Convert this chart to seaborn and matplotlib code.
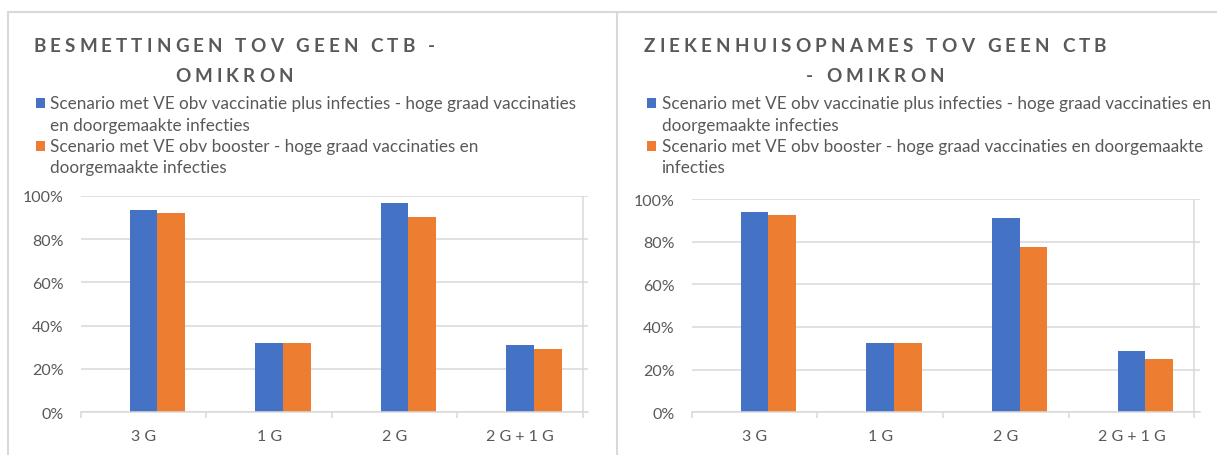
import matplotlib
matplotlib.use("Agg")
import matplotlib.pyplot as plt
import numpy as np
import pandas as pd
import seaborn as sns
from matplotlib.lines import Line2D
from matplotlib.patches import Rectangle
from matplotlib.ticker import PercentFormatter, FixedLocator

# ---------------- data ----------------
categories = ["3 G", "1 G", "2 G", "2 G + 1 G"]
series_names = [
    "Scenario met VE obv vaccinatie plus infecties - hoge graad vaccinaties en doorgemaakte infecties",
    "Scenario met VE obv booster - hoge graad vaccinaties en doorgemaakte infecties",
]
empty_series = "(lege reeks)"
titles = [
    ["BESMETTINGEN TOV GEEN CTB -", "OMIKRON"],
    ["ZIEKENHUISOPNAMES TOV GEEN CTB", "- OMIKRON"],
]
# legend text as wrapped in the reference
legend_lines = [
    [["Scenario met VE obv vaccinatie plus infecties - hoge graad vaccinaties", "en doorgemaakte infecties"],
     ["Scenario met VE obv booster - hoge graad vaccinaties en", "doorgemaakte infecties"]],
    [["Scenario met VE obv vaccinatie plus infecties - hoge graad vaccinaties en", "doorgemaakte infecties"],
     ["Scenario met VE obv booster - hoge graad vaccinaties en doorgemaakte", "infecties"]],
]
besmettingen_vacc_inf = [0.934, 0.318, 0.966, 0.309]
besmettingen_booster = [0.920, 0.318, 0.901, 0.291]
ziekenhuis_vacc_inf = [0.938, 0.323, 0.911, 0.289]
ziekenhuis_booster = [0.925, 0.323, 0.775, 0.248]
yticks = [0.0, 0.2, 0.4, 0.6, 0.8, 1.0]

bar_colors = ["#4472C4", "#ED7D31"]
text_color = "#595959"
grid_color = "#D9D9D9"

# ---------------- figure ----------------
sns.set_theme(style="white")
plt.rcParams["font.family"] = ["Lato", "DejaVu Sans"]

W, H = 1217, 456
fig = plt.figure(figsize=(W / 100, H / 100), dpi=100)
fig.patch.set_facecolor("white")


def fx(px):
    return px / W


def fy(py):
    return 1 - py / H


renderer = fig.canvas.get_renderer()


def text_width(s, **kw):
    t = fig.text(0, 0, s, **kw)
    w = t.get_window_extent(renderer).width
    t.remove()
    return w


def spaced_text(s, xc, y_base, spacing, **kw):
    widths = []
    for ch in s:
        if ch == " ":
            widths.append(text_width("H H", **kw) - text_width("HH", **kw))
        else:
            widths.append(text_width(ch, **kw))
    total = sum(widths) + spacing * (len(s) - 1)
    x = xc - total / 2
    for ch, w in zip(s, widths):
        if ch != " ":
            fig.text(fx(x), fy(y_base), ch, ha="left", va="baseline", **kw)
        x += w + spacing


panels = [
    dict(values=[besmettingen_vacc_inf, besmettingen_booster],
         ax_px=(80.8, 588.0, 196.7, 413.3), title_xc=234, legend_x=36, text_x=49.5),
    dict(values=[ziekenhuis_vacc_inf, ziekenhuis_booster],
         ax_px=(691.7, 1199.5, 200.0, 413.3), title_xc=875, legend_x=647, text_x=661.5),
]

for i, p in enumerate(panels):
    x0, x1, y0, y1 = p["ax_px"]
    ax = fig.add_axes([fx(x0), fy(y1), (x1 - x0) / W, (y1 - y0) / H])
    df = pd.DataFrame({
        "categorie": categories * 2,
        "scenario": [series_names[0]] * 4 + [series_names[1]] * 4,
        "waarde": list(p["values"][0]) + list(p["values"][1]),
    })
    palette = {empty_series: "white", series_names[0]: bar_colors[0], series_names[1]: bar_colors[1]}
    sns.barplot(data=df, x="categorie", y="waarde", hue="scenario",
                order=categories, hue_order=[empty_series] + series_names,
                palette=palette, width=0.66, dodge=True, saturation=1,
                linewidth=0, errorbar=None, legend=False, ax=ax)
    ax.set_xlim(-0.5, 3.54)
    ax.set_ylim(0, 1)
    ax.set_xlabel("")
    ax.set_ylabel("")
    ax.yaxis.set_major_locator(FixedLocator(yticks))
    ax.yaxis.set_major_formatter(PercentFormatter(1.0, decimals=0))
    ax.yaxis.grid(True, color=grid_color, lw=1.1)
    ax.set_axisbelow(True)
    for s in ["top", "left", "right"]:
        ax.spines[s].set_visible(False)
    ax.spines["bottom"].set_color(grid_color)
    ax.spines["bottom"].set_linewidth(1.1)
    ax.axvline(3.5, color=grid_color, lw=1.1, zorder=0)
    ax.xaxis.set_minor_locator(FixedLocator([-0.5, 0.5, 1.5, 2.5, 3.5]))
    ax.tick_params(axis="x", which="minor", length=4.3, width=1.1, color=grid_color,
                   direction="out", bottom=True)
    ax.tick_params(axis="x", which="major", length=0, pad=12, labelsize=11.5,
                   labelcolor=text_color)
    ax.tick_params(axis="y", which="major", length=0, pad=12.5, labelsize=11.5,
                   labelcolor=text_color)
    ax.set_facecolor("white")

    # title
    spaced_text(titles[i][0], p["title_xc"], 51.7, 4.1,
                fontsize=13.6, fontweight="bold", color=text_color)
    spaced_text(titles[i][1], p["title_xc"], 81.7, 4.1,
                fontsize=13.6, fontweight="bold", color=text_color)

    # legend
    baselines = [[109.5, 130.8], [152.2, 173.5]]
    for k in range(2):
        fig.add_artist(Rectangle((fx(p["legend_x"]), fy(baselines[k][0] - 0.5)), 9 / W, 10 / H,
                                 transform=fig.transFigure, color=bar_colors[k], lw=0))
        for j, line in enumerate(legend_lines[i][k]):
            fig.text(fx(p["text_x"]), fy(baselines[k][j]), line, ha="left", va="baseline",
                     fontsize=12.3, color=text_color)

# panel borders
for seg in [((7.5, 7.5), (456, 12.7)), ((7.5, 1217), (12.7, 12.7)), ((617.5, 617.5), (12.7, 456))]:
    fig.add_artist(Line2D([fx(v) for v in seg[0]], [fy(v) for v in seg[1]],
                          transform=fig.transFigure, color=grid_color, lw=1.5))

fig.savefig("out.png", dpi=100)
